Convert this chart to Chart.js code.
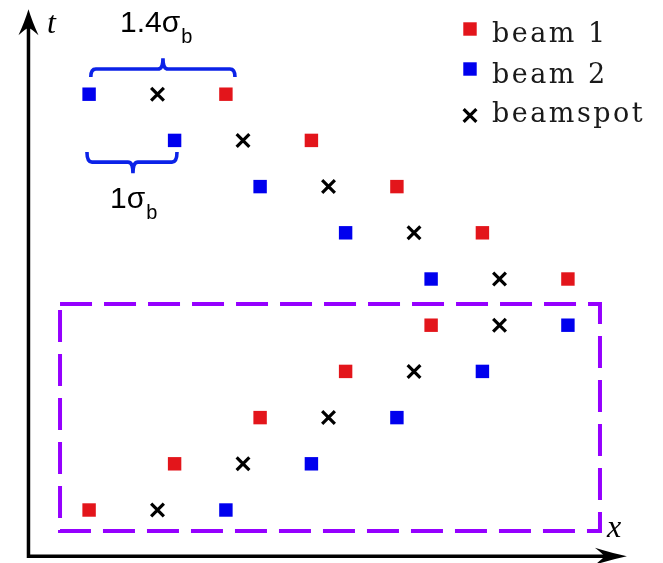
<!DOCTYPE html>
<html>
<head>
<meta charset="utf-8">
<script src="https://cdn.jsdelivr.net/npm/chart.js@4/dist/chart.umd.min.js"></script>
<style>
  html, body { margin: 0; padding: 0; background: #fff; }
  canvas { display: block; }
</style>
</head>
<body>
<canvas id="beamChart" width="663" height="563"></canvas>
<script>
// time steps, top to bottom
const times = [9, 8, 7, 6, 5, 4, 3, 2, 1, 0];
// transverse positions in units of sigma_b
const beamspotX = [0, 1, 2, 3, 4, 4, 3, 2, 1, 0];
const beam1X = [0.8, 1.8, 2.8, 3.8, 4.8, 3.2, 2.2, 1.2, 0.2, -0.8];
const beam2X = [-0.8, 0.2, 1.2, 2.2, 3.2, 4.8, 3.8, 2.8, 1.8, 0.8];
const seriesNames = ['beam 1', 'beam 2', 'beamspot'];

const RED = '#e3151b';
const BLUE = '#0000ee';
const BRACE_BLUE = '#0b22e8';
const PURPLE = '#9500ff';

function toPoints(xs) {
  return xs.map((x, i) => ({ x: x, y: times[i] }));
}

// axes frame, dashed region, braces and labels (data units)
const frame = { x: -1.509, t: -1.0, xEnd: 5.49, tEnd: 10.84 };
const region = { x0: -1.14, x1: 5.175, t0: -0.455, t1: 4.459 };
const braces = [
  { x0: -0.78, x1: 0.906, xMid: 0.064, tEnd: 9.37, tBar: 9.545, tTip: 9.78 },
  { x0: -0.825, x1: 0.228, xMid: -0.287, tEnd: 7.75, tBar: 7.53, tTip: 7.29 }
];
const braceLabels = [
  { text: '1.4σ', sub: 'b', x: -0.439, t: 10.346, subDy: 11 },
  { text: '1σ', sub: 'b', x: -0.556, t: 6.537, subDy: 11 }
];

function arrowHead(ctx, tipX, tipY, dirX, dirY, len, half) {
  // LaTeX style arrow tip with a slightly hollow back
  const px = -dirY, py = dirX;
  const bx = tipX - dirX * len, by = tipY - dirY * len;
  const nx = tipX - dirX * len * 0.72, ny = tipY - dirY * len * 0.72;
  ctx.beginPath();
  ctx.moveTo(tipX, tipY);
  ctx.quadraticCurveTo(tipX - dirX * len * 0.45 + px * half * 0.35, tipY - dirY * len * 0.45 + py * half * 0.35,
                       bx + px * half, by + py * half);
  ctx.quadraticCurveTo(nx + px * half * 0.2, ny + py * half * 0.2, nx, ny);
  ctx.quadraticCurveTo(nx - px * half * 0.2, ny - py * half * 0.2, bx - px * half, by - py * half);
  ctx.quadraticCurveTo(tipX - dirX * len * 0.45 - px * half * 0.35, tipY - dirY * len * 0.45 - py * half * 0.35,
                       tipX, tipY);
  ctx.closePath();
  ctx.fill();
}

const extrasPlugin = {
  id: 'extras',
  afterDatasetsDraw(chart) {
    const ctx = chart.ctx;
    const sx = chart.scales.x, sy = chart.scales.y;
    const X = v => sx.getPixelForValue(v);
    const Y = v => sy.getPixelForValue(v);
    ctx.save();

    // coordinate axes
    ctx.strokeStyle = '#000';
    ctx.fillStyle = '#000';
    ctx.lineWidth = 3.5;
    ctx.beginPath();
    ctx.moveTo(X(frame.x), Y(frame.tEnd) + 12);
    ctx.lineTo(X(frame.x), Y(frame.t));
    ctx.lineTo(X(frame.xEnd) - 12, Y(frame.t));
    ctx.stroke();
    arrowHead(ctx, X(frame.x), Y(frame.tEnd), 0, -1, 26, 10);
    arrowHead(ctx, X(frame.xEnd), Y(frame.t), 1, 0, 32, 8.5);

    ctx.font = 'italic 32px "Liberation Serif"';
    ctx.textBaseline = 'alphabetic';
    ctx.textAlign = 'left';
    ctx.fillText('t', 47, 33);
    ctx.fillText('x', 607, 537);

    // dashed region
    ctx.strokeStyle = PURPLE;
    ctx.lineWidth = 4;
    ctx.setLineDash([32, 12]);
    ctx.beginPath();
    ctx.moveTo(X(region.x0), Y(region.t1));
    ctx.lineTo(X(region.x1), Y(region.t1));
    ctx.lineTo(X(region.x1), Y(region.t0));
    ctx.lineTo(X(region.x0), Y(region.t0));
    ctx.closePath();
    ctx.stroke();
    ctx.setLineDash([]);

    // braces
    ctx.strokeStyle = BRACE_BLUE;
    ctx.lineWidth = 3.6;
    ctx.lineJoin = 'round';
    braces.forEach(b => {
      const x0 = X(b.x0), x1 = X(b.x1), xm = X(b.xMid);
      const ye = Y(b.tEnd), yb = Y(b.tBar), yt = Y(b.tTip);
      const r = 5;
      ctx.beginPath();
      ctx.moveTo(x0, ye);
      ctx.quadraticCurveTo(x0, yb, x0 + r, yb);
      ctx.lineTo(xm - r, yb);
      ctx.quadraticCurveTo(xm, yb, xm, yt);
      ctx.moveTo(xm, yt);
      ctx.quadraticCurveTo(xm, yb, xm + r, yb);
      ctx.lineTo(x1 - r, yb);
      ctx.quadraticCurveTo(x1, yb, x1, ye);
      ctx.stroke();
    });

    ctx.fillStyle = '#000';
    braceLabels.forEach(l => {
      const px = X(l.x), py = Y(l.t);
      ctx.font = '30px "Liberation Sans"';
      ctx.fillText(l.text, px, py);
      const w = ctx.measureText(l.text).width;
      ctx.font = '20px "Liberation Sans"';
      ctx.fillText(l.sub, px + w + 1, py + l.subDy);
    });

    // legend
    const rows = [29, 69, 115.5];
    const bases = [42, 83, 121.5];
    chart.data.datasets.forEach((d, i) => {
      ctx.fillStyle = d.backgroundColor;
      ctx.strokeStyle = d.borderColor;
      ctx.lineWidth = d.borderWidth;
      Chart.helpers.drawPoint(ctx, {
        pointStyle: d.pointStyle, radius: d.pointRadius,
        borderWidth: d.borderWidth, rotation: 0
      }, 470, rows[i]);
      ctx.fillStyle = '#1a1a1a';
      ctx.font = '27px "DejaVu Serif"';
      ctx.letterSpacing = '2.5px';
      ctx.fillText(seriesNames[i], 492, bases[i]);
      ctx.letterSpacing = '0px';
    });

    ctx.restore();
  }
};

const ctx = document.getElementById('beamChart').getContext('2d');
new Chart(ctx, {
  type: 'scatter',
  data: {
    datasets: [
      {
        label: seriesNames[0],
        data: toPoints(beam1X),
        pointStyle: 'rect',
        pointRadius: 9.5,
        backgroundColor: RED,
        borderColor: RED,
        borderWidth: 0
      },
      {
        label: seriesNames[1],
        data: toPoints(beam2X),
        pointStyle: 'rect',
        pointRadius: 9.5,
        backgroundColor: BLUE,
        borderColor: BLUE,
        borderWidth: 0
      },
      {
        label: seriesNames[2],
        data: toPoints(beamspotX),
        pointStyle: 'crossRot',
        pointRadius: 9,
        backgroundColor: '#000',
        borderColor: '#000',
        borderWidth: 3.2
      }
    ]
  },
  options: {
    responsive: false,
    animation: false,
    events: [],
    layout: { padding: 0, autoPadding: false },
    scales: {
      x: { type: 'linear', display: false, min: -1.842, max: 5.912 },
      y: { type: 'linear', display: false, min: -1.147, max: 11.039 }
    },
    plugins: {
      legend: { display: false },
      tooltip: { enabled: false }
    }
  },
  plugins: [extrasPlugin]
});
</script>
</body>
</html>
